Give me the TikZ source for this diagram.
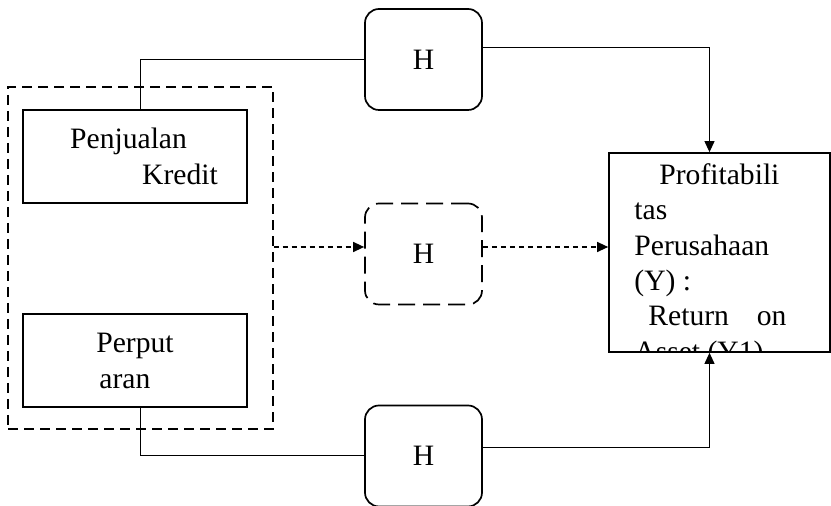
\documentclass[tikz,border=0pt]{standalone}
\usepackage{fontspec}
\setmainfont{Liberation Serif}
\usetikzlibrary{arrows.meta,positioning,calc}

\begin{document}
\begin{tikzpicture}[x=0.5pt,y=-0.5pt,
    box/.style={draw, line width=0.85pt, inner sep=0pt, align=left, font=\fontsize{14.8}{18}\selectfont},
    hbox/.style={draw, line width=0.85pt, rounded corners=7pt, minimum width=58.5pt, minimum height=50.5pt, font=\fontsize{14.8}{18}\selectfont},
    line/.style={line width=0.5pt},
    arr/.style={-{Triangle[length=5.5pt,width=5pt]}, line width=0.5pt},
    dsh/.style={dash pattern=on 2.5pt off 2pt, line width=0.65pt}
]
\useasboundingbox (0,0) rectangle (831,506);
\node[draw, dash pattern=on 5pt off 3pt, line width=0.65pt, minimum width=132.5pt, minimum height=171pt] (group) at (140.5,258) {};
\node[box, minimum width=112pt, minimum height=46.5pt] (kredit) at (135,156.5) {\hspace*{9pt}Penjualan\\\hspace*{45pt}Kredit};
\node[box, minimum width=112pt, minimum height=46.5pt] (putar) at (135,360.5) {Perput\\\hspace*{1.5pt}aran};

\node[hbox] (h1) at (423.5,59.5) {H};
\node[hbox, dash pattern=on 8.5pt off 4pt] (h2) at (423.5,254) {H};
\node[hbox] (h3) at (423.5,456) {H};

\node[box, minimum width=110.5pt, minimum height=99.5pt] (prof) at (719.5,252.5) {};
\begin{scope}
\clip (prof.south west) rectangle (prof.north east);
\node[anchor=north west, inner sep=0pt, align=left, font=\fontsize{14.8}{17.7}\selectfont] (proftext) at (634,163) {\hspace*{12.5pt}Profitabili\\tas\\Perusahaan\\(Y) :\\\hspace*{7pt}Return\hspace{14pt}on\\Asset (Y1)};
\end{scope}

\coordinate (mid) at (0,247);
\draw[line] ([xshift=2.5pt]kredit.north) |- (h1.west);
\draw[arr] ([yshift=5.75pt]h1.east) -| ([xshift=-5pt]prof.north);
\draw[line] ([xshift=2.5pt]putar.south) |- (h3.west);
\draw[arr] ([yshift=4pt]h3.east) -| ([xshift=-5pt]prof.south);
\draw[arr, dsh] (group.east |- mid) -- (h2.west |- mid);
\draw[arr, dsh] (h2.east |- mid) -- (prof.west |- mid);
\end{tikzpicture}
\end{document}
